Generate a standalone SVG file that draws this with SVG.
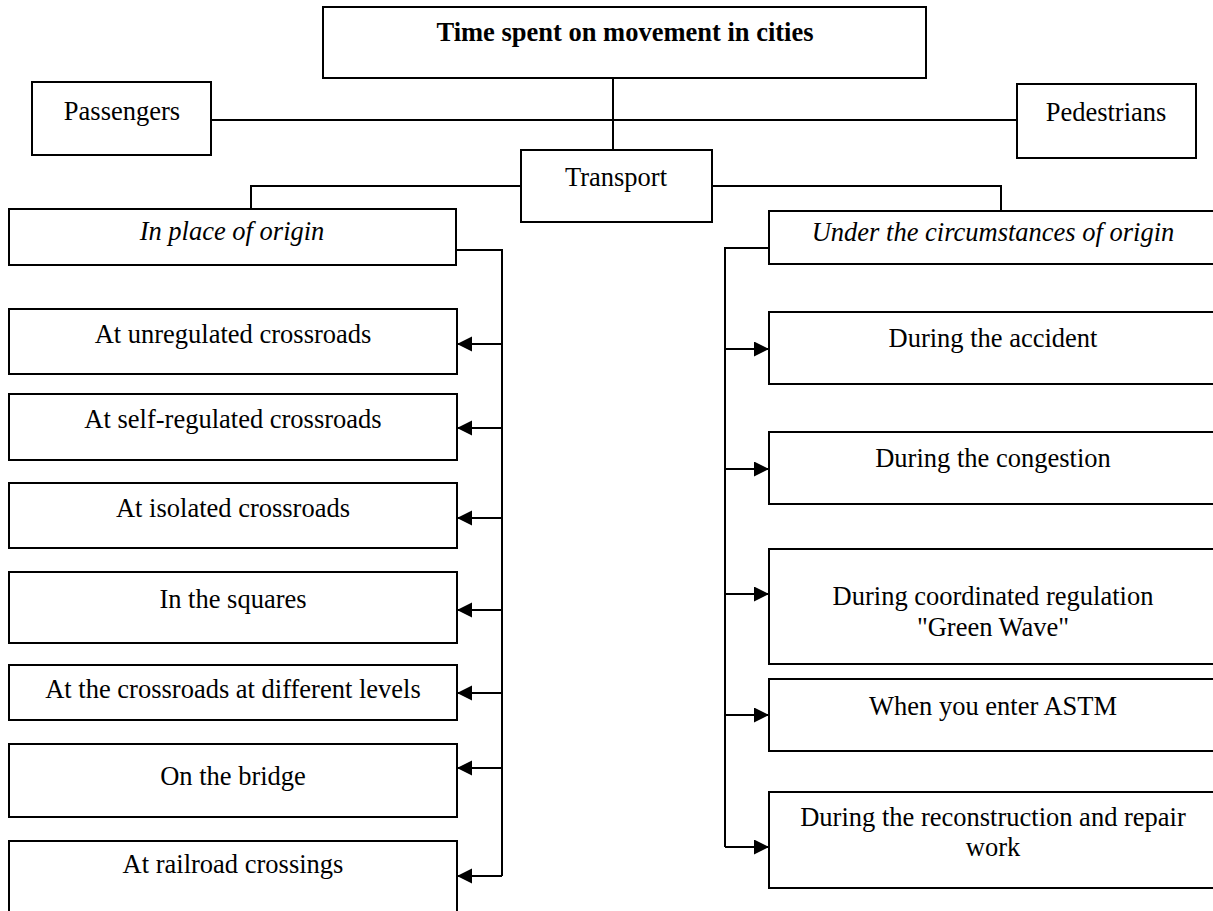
<svg xmlns="http://www.w3.org/2000/svg" width="1213" height="911" viewBox="0 0 1213 911">
<style>
.box{fill:#fff;stroke:#000;stroke-width:2}
.t{font-family:"Liberation Serif","Times New Roman",serif;font-size:26.5px;fill:#000;text-anchor:middle}
.b{font-weight:bold}
.i{font-style:italic}
.ln{fill:none;stroke:#000;stroke-width:2}
</style>
<defs>
<marker id="ah" markerUnits="userSpaceOnUse" markerWidth="16" markerHeight="16" refX="15" refY="7.5" orient="auto">
<path d="M0,0 L15,7.5 L0,15 z" fill="#000"/>
</marker>
</defs>
<rect width="1213" height="911" fill="#fff"/>
<g id="connectors">
<path class="ln" d="M613,78 V150"/>
<path class="ln" d="M211,120 H1017"/>
<path class="ln" d="M521,186 H251 V209"/>
<path class="ln" d="M712,186 H1001 V211"/>
<path class="ln" d="M456,250 H502 V876"/>
<path class="ln" d="M769,248 H725 V847"/>
<line class="ln" x1="502" y1="344" x2="457" y2="344" marker-end="url(#ah)"/>
<line class="ln" x1="502" y1="428" x2="457" y2="428" marker-end="url(#ah)"/>
<line class="ln" x1="502" y1="518" x2="457" y2="518" marker-end="url(#ah)"/>
<line class="ln" x1="502" y1="610" x2="457" y2="610" marker-end="url(#ah)"/>
<line class="ln" x1="502" y1="693" x2="457" y2="693" marker-end="url(#ah)"/>
<line class="ln" x1="502" y1="768" x2="457" y2="768" marker-end="url(#ah)"/>
<line class="ln" x1="502" y1="876" x2="457" y2="876" marker-end="url(#ah)"/>
<line class="ln" x1="725" y1="349" x2="769" y2="349" marker-end="url(#ah)"/>
<line class="ln" x1="725" y1="469" x2="769" y2="469" marker-end="url(#ah)"/>
<line class="ln" x1="725" y1="594" x2="769" y2="594" marker-end="url(#ah)"/>
<line class="ln" x1="725" y1="715" x2="769" y2="715" marker-end="url(#ah)"/>
<line class="ln" x1="725" y1="847" x2="769" y2="847" marker-end="url(#ah)"/>
</g>
<g id="title"><rect class="box" x="323" y="7" width="603" height="71"/><text class="t b" x="625" y="41">Time spent on movement in cities</text></g>
<g id="passengers"><rect class="box" x="32" y="82" width="179" height="73"/><text class="t" x="122" y="120">Passengers</text></g>
<g id="pedestrians"><rect class="box" x="1017" y="84" width="179" height="74"/><text class="t" x="1106" y="121">Pedestrians</text></g>
<g id="transport"><rect class="box" x="521" y="150" width="191" height="72"/><text class="t" x="616" y="186">Transport</text></g>
<g id="place"><rect class="box" x="9" y="209" width="447" height="56"/><text class="t i" x="232" y="240">In place of origin</text></g>
<g id="circumstances"><rect class="box" x="769" y="211" width="450" height="53"/><text class="t i" x="993" y="241">Under the circumstances of origin</text></g>
<g id="unregulated"><rect class="box" x="9" y="309" width="448" height="65"/><text class="t" x="233" y="343">At unregulated crossroads</text></g>
<g id="selfregulated"><rect class="box" x="9" y="394" width="448" height="66"/><text class="t" x="233" y="428">At self-regulated crossroads</text></g>
<g id="isolated"><rect class="box" x="9" y="483" width="448" height="65"/><text class="t" x="233" y="517">At isolated crossroads</text></g>
<g id="squares"><rect class="box" x="9" y="572" width="448" height="71"/><text class="t" x="233" y="608">In the squares</text></g>
<g id="levels"><rect class="box" x="9" y="665" width="448" height="55"/><text class="t" x="233" y="698">At the crossroads at different levels</text></g>
<g id="bridge"><rect class="box" x="9" y="744" width="448" height="73"/><text class="t" x="233" y="785">On the bridge</text></g>
<g id="railroad"><rect class="box" x="9" y="841" width="448" height="80"/><text class="t" x="233" y="873">At railroad crossings</text></g>
<g id="accident"><rect class="box" x="769" y="312" width="450" height="72"/><text class="t" x="993" y="347">During the accident</text></g>
<g id="congestion"><rect class="box" x="769" y="432" width="450" height="72"/><text class="t" x="993" y="467">During the congestion</text></g>
<g id="greenwave"><rect class="box" x="769" y="549" width="450" height="115"/><text class="t" x="993" y="605">During coordinated regulation</text><text class="t" x="993" y="636">"Green Wave"</text></g>
<g id="astm"><rect class="box" x="769" y="679" width="450" height="72"/><text class="t" x="993" y="715">When you enter ASTM</text></g>
<g id="repair"><rect class="box" x="769" y="792" width="450" height="96"/><text class="t" x="993" y="826">During the reconstruction and repair</text><text class="t" x="993" y="856">work</text></g>
</svg>
